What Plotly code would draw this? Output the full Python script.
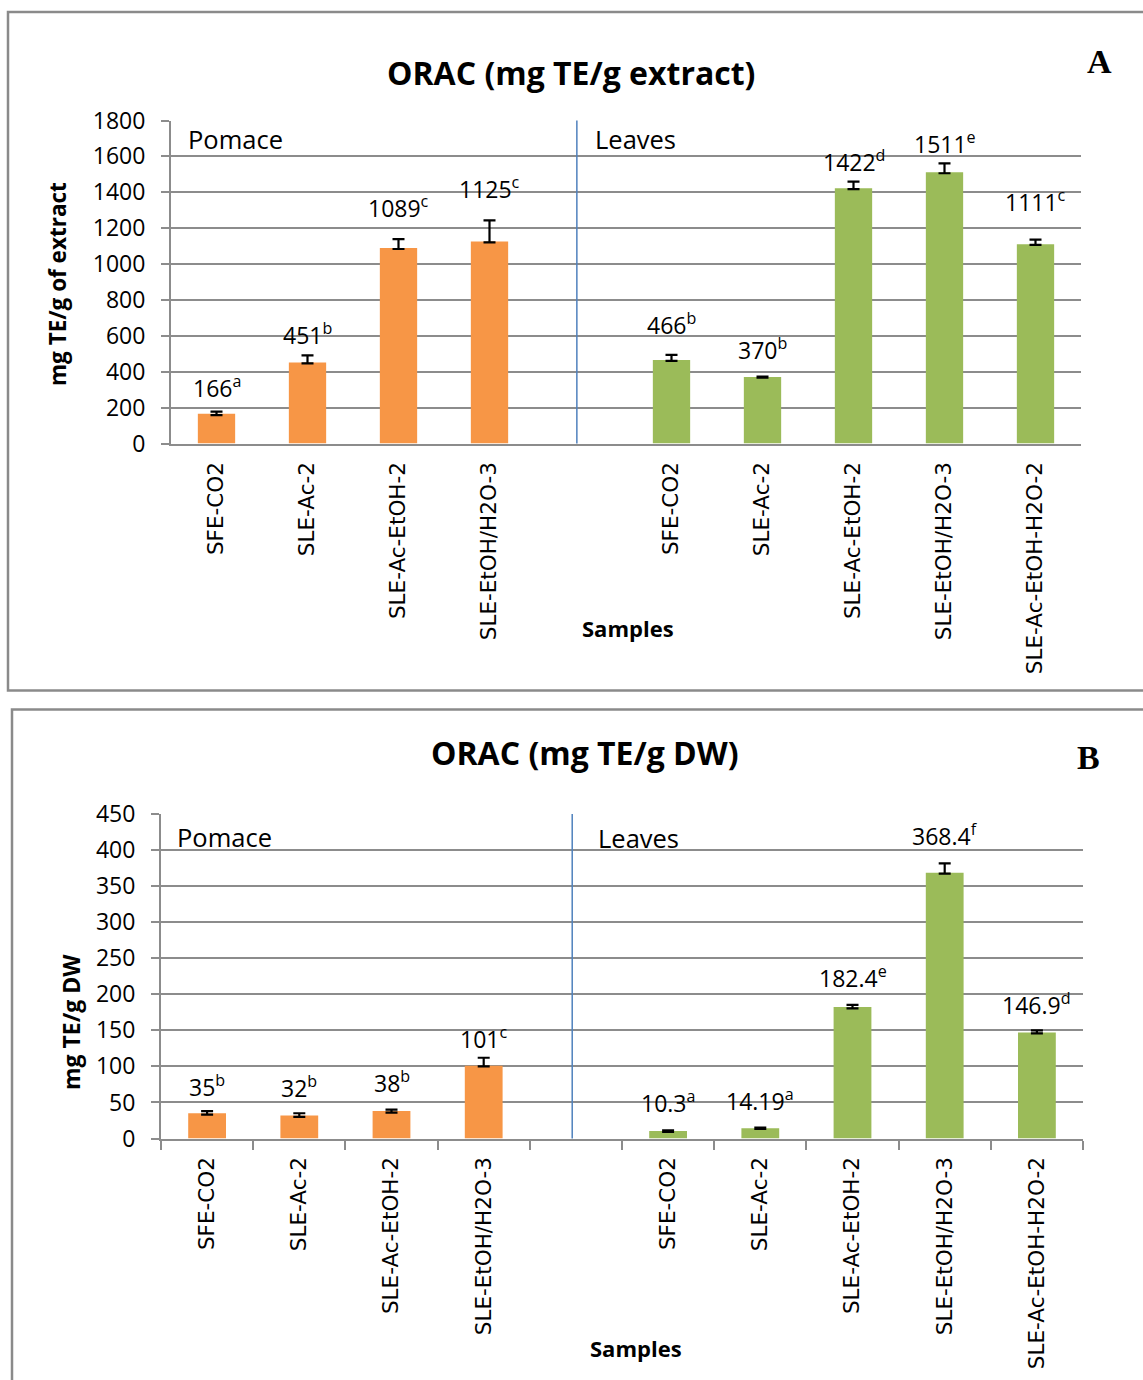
import plotly.graph_objects as go

# ---- data -------------------------------------------------------------
pomace_samples = ["SFE-CO2", "SLE-Ac-2", "SLE-Ac-EtOH-2", "SLE-EtOH/H2O-3"]
leaves_samples = ["SFE-CO2", "SLE-Ac-2", "SLE-Ac-EtOH-2", "SLE-EtOH/H2O-3",
                  "SLE-Ac-EtOH-H2O-2"]

# Panel A: ORAC (mg TE/g extract)
extract_pomace = [166, 451, 1089, 1125]
extract_pomace_err_plus = [12, 40, 50, 118]
extract_pomace_err_minus = [8, 5, 5, 4]
extract_pomace_letters = ["a", "b", "c", "c"]

extract_leaves = [466, 370, 1422, 1511, 1111]
extract_leaves_err_plus = [28, 3, 37, 50, 25]
extract_leaves_err_minus = [5, 3, 4, 5, 4]
extract_leaves_letters = ["b", "b", "d", "e", "c"]

# Panel B: ORAC (mg TE/g DW)
dw_pomace = [35, 32, 38, 101]
dw_pomace_err_plus = [3, 3, 2, 11]
dw_pomace_err_minus = [2, 2, 2, 1]
dw_pomace_letters = ["b", "b", "b", "c"]

dw_leaves = [10.3, 14.19, 182.4, 368.4, 146.9]
dw_leaves_err_plus = [1, 1, 3, 13, 3]
dw_leaves_err_minus = [1, 1, 2, 1, 1]
dw_leaves_letters = ["a", "a", "e", "f", "d"]

# ---- styling ----------------------------------------------------------
W, H = 1143, 1380
ORANGE = "#F79646"
GREEN = "#9BBB59"
GRID = "#8c8c8c"
DIVIDER = "#4F81BD"
FRAME = "#8a8a8a"
SANS = "Open Sans"
TICK_SANS = "DejaVu Sans"

# pixel gap between error-bar top and the centre of each value label
gap_a_pomace = [23, 19, 30, 30]
gap_a_leaves = [29, 26, 19, 18, 37]
gap_b_pomace = [23, 24, 26, 18]
gap_b_leaves = [26, 26, 26, 26, 24]


def px(x):
    return x / W


def py(y):
    return 1 - y / H


# category slots: pomace, one empty slot, leaves
pos_pomace = list(range(len(pomace_samples)))
pos_leaves = [len(pomace_samples) + 1 + i for i in range(len(leaves_samples))]
tick_pos = pos_pomace + pos_leaves
tick_txt = pomace_samples + leaves_samples
n_slots = len(pomace_samples) + 1 + len(leaves_samples)

fig = go.Figure()


def add_bars(xaxis, yaxis, xs, vals, plus, minus, color):
    fig.add_trace(go.Bar(
        x=xs, y=vals, xaxis=xaxis, yaxis=yaxis, width=0.41,
        marker=dict(color=color, line=dict(width=0)),
        error_y=dict(type="data", symmetric=False, array=plus,
                     arrayminus=minus, color="black", thickness=2.2,
                     width=6),
        showlegend=False, hoverinfo="skip",
    ))


def add_labels(xref, yref, xs, vals, plus, letters, gaps):
    for x, v, p, l, g in zip(xs, vals, plus, letters, gaps):
        fig.add_annotation(
            x=x, y=v + p, xref=xref, yref=yref, yanchor="middle",
            yshift=g + 2, showarrow=False,
            text=f"{v:g}<sup>{l}</sup>",
            font=dict(family=SANS, size=23, color="black"),
        )


add_bars("x", "y", pos_pomace, extract_pomace, extract_pomace_err_plus,
         extract_pomace_err_minus, ORANGE)
add_bars("x", "y", pos_leaves, extract_leaves, extract_leaves_err_plus,
         extract_leaves_err_minus, GREEN)
add_bars("x2", "y2", pos_pomace, dw_pomace, dw_pomace_err_plus,
         dw_pomace_err_minus, ORANGE)
add_bars("x2", "y2", pos_leaves, dw_leaves, dw_leaves_err_plus,
         dw_leaves_err_minus, GREEN)

add_labels("x", "y", pos_pomace, extract_pomace, extract_pomace_err_plus,
           extract_pomace_letters, gap_a_pomace)
add_labels("x", "y", pos_leaves, extract_leaves, extract_leaves_err_plus,
           extract_leaves_letters, gap_a_leaves)
add_labels("x2", "y2", pos_pomace, dw_pomace, dw_pomace_err_plus,
           dw_pomace_letters, gap_b_pomace)
add_labels("x2", "y2", pos_leaves, dw_leaves, dw_leaves_err_plus,
           dw_leaves_letters, gap_b_leaves)

xaxis_common = dict(
    range=[-0.5, n_slots - 0.5], tickmode="array", tickvals=tick_pos,
    ticktext=tick_txt, tickangle=-90, ticks="", showgrid=False,
    zeroline=False, showline=True, linecolor=GRID, linewidth=2,
    tickfont=dict(family=TICK_SANS, size=21.5, color="black"),
    ticklabelstandoff=8, fixedrange=True, automargin=False,
)
yaxis_common = dict(
    ticks="outside", ticklen=8, tickwidth=2, tickcolor=GRID,
    showgrid=True, gridcolor=GRID, gridwidth=2, zeroline=False,
    showline=True, linecolor=GRID, linewidth=2,
    tickfont=dict(family=SANS, size=23, color="black"),
    ticklabelstandoff=11, fixedrange=True, automargin=False,
)

fig.update_layout(
    width=W, height=H, autosize=False,
    margin=dict(l=0, r=0, t=0, b=0, pad=0, autoexpand=False),
    paper_bgcolor="white", plot_bgcolor="white",
    bargap=0.59,
    xaxis=dict(domain=[px(171), px(1081)], anchor="y", **xaxis_common),
    yaxis=dict(domain=[py(443.5), py(120.5)], anchor="x",
               range=[0, 1800], dtick=200, **yaxis_common),
    xaxis2=dict(domain=[px(161), px(1083)], anchor="y2",
                minor=dict(tickmode="array",
                           tickvals=[i - 0.5 for i in range(n_slots + 1)],
                           ticks="outside", ticklen=9, tickwidth=1.5,
                           tickcolor=GRID, showgrid=False),
                **xaxis_common),
    yaxis2=dict(domain=[py(1138.5), py(814)], anchor="x2",
                range=[0, 450], dtick=50, **yaxis_common),
)

# group dividers between pomace and leaves
for xr, yr in (("x", "y domain"), ("x2", "y2 domain")):
    fig.add_shape(type="line", xref=xr, yref=yr, x0=3.96, x1=3.96,
                  y0=0, y1=1, line=dict(color=DIVIDER, width=1.5))

# panel frames
fig.add_shape(type="rect", xref="paper", yref="paper",
              x0=px(8), x1=px(1160), y0=py(690.5), y1=py(12),
              line=dict(color=FRAME, width=2.5), layer="below")
fig.add_shape(type="rect", xref="paper", yref="paper",
              x0=px(12), x1=px(1160), y0=py(1400), y1=py(709.5),
              line=dict(color=FRAME, width=2.5), layer="below")


def note(x, y, text, size, family=SANS, angle=0, xanchor="center"):
    fig.add_annotation(x=px(x), y=py(y), xref="paper", yref="paper",
                       text=text, showarrow=False, textangle=angle,
                       xanchor=xanchor, yanchor="middle",
                       font=dict(family=family, size=size, color="black"))


note(571, 72, "<b>ORAC (mg TE/g extract)</b>", 32)
note(585, 753, "<b>ORAC (mg TE/g DW)</b>", 32)
note(1099, 61, "<b>A</b>", 34, family="Liberation Serif")
note(1088, 757, "<b>B</b>", 34, family="Liberation Serif")
note(58, 284, "<b>mg TE/g of extract</b>", 22.5, angle=-90)
note(71, 1022, "<b>mg TE/g DW</b>", 23, angle=-90)
note(628, 628, "<b>Samples</b>", 22)
note(636, 1348, "<b>Samples</b>", 22)
note(186, 139, "Pomace", 25.5, xanchor="left")
note(593, 139, "Leaves", 25.5, xanchor="left")
note(175, 837, "Pomace", 25.5, xanchor="left")
note(596, 838, "Leaves", 25.5, xanchor="left")

fig.write_html("out.html")
